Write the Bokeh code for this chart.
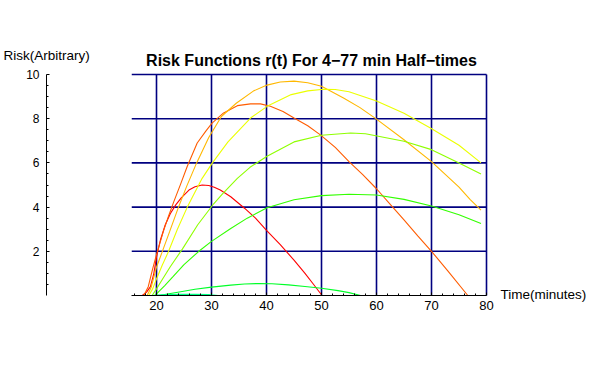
from bokeh.plotting import figure
from bokeh.models import Range1d, LinearAxis, FixedTicker, Label
from bokeh.embed import file_html
from bokeh.resources import INLINE

# ---- data ----
title_text = "Risk Functions r(t) For 4\u221277 min Half\u2212times"
x_label = "Time(minutes)"
y_label = "Risk(Arbitrary)"

x_major = [20, 30, 40, 50, 60, 70, 80]
x_minor = [16, 18, 22, 24, 26, 28, 32, 34, 36, 38, 42, 44, 46, 48, 52, 54, 56, 58,
           62, 64, 66, 68, 72, 74, 76, 78]
y_major = [2, 4, 6, 8, 10]
y_minor = [0.5, 1, 1.5, 2.5, 3, 3.5, 4.5, 5, 5.5, 6.5, 7, 7.5, 8.5, 9, 9.5]
x_start, x_end = 15.5, 80
y_start, y_end = 0, 10

red_t = [17.4, 18.2, 18.9, 19.5, 20.0, 20.7, 21.6, 22.5, 23.5, 24.5, 25.9, 27.0, 28.3,
         29.5, 30.5, 31.6, 33.5, 36.0, 38.0, 40.0, 42.5, 45.0, 47.0, 48.5, 50.1]
red_r = [0, 0.15, 0.4, 0.98, 1.74, 2.5, 3.2, 3.7, 4.1, 4.42, 4.77, 4.92, 5.0,
         4.98, 4.9, 4.77, 4.47, 3.95, 3.5, 2.95, 2.3, 1.6, 1.0, 0.52, 0]

orred_t = [17.7, 18.5, 19.3, 20.0, 21.3, 22.2, 23.15, 24.4, 25.6, 27.4, 29.0, 30.1, 32.2,
           34.7, 37.1, 38.9, 40.7, 43.0, 45.0, 47.5, 49.8, 52.5, 55.0, 57.5, 60.0, 62.5,
           65.0, 67.5, 70.0, 73.0, 76.6]
orred_r = [0, 0.4, 1.2, 1.85, 2.95, 3.6, 4.25, 5.05, 5.85, 6.9, 7.45, 7.8, 8.26,
           8.59, 8.67, 8.67, 8.56, 8.33, 8.03, 7.68, 7.27, 6.7, 6.06, 5.47, 4.83, 4.12,
           3.42, 2.7, 2.0, 1.1, 0]

orange_t = [18.3, 19.0, 20.0, 21.0, 22.4, 24.0, 25.5, 27.3, 29.5, 31.8, 34.5, 37.6, 40.1,
            42.5, 45.0, 47.5, 50.0, 54.0, 57.0, 60.0, 65.0, 70.0, 75.0, 77.0, 79.0]
orange_r = [0, 0.35, 1.28, 1.95, 2.9, 4.0, 4.95, 6.0, 7.15, 8.1, 8.7, 9.25, 9.52,
            9.66, 9.7, 9.63, 9.47, 8.94, 8.5, 7.98, 7.05, 6.06, 4.9, 4.35, 3.86]

yellow_t = [18.6, 19.3, 20.0, 21.0, 22.2, 23.8, 25.6, 28.3, 30.1, 33.0, 37.1, 40.1, 44.5,
            47.5, 50.4, 52.5, 55.0, 60.0, 65.0, 69.8, 75.0, 79.0]
yellow_r = [0, 0.3, 0.75, 1.35, 2.0, 3.0, 4.0, 5.3, 5.98, 6.95, 8.03, 8.56, 9.09,
            9.26, 9.33, 9.32, 9.22, 8.8, 8.25, 7.58, 6.8, 6.0]

ygreen_t = [19.2, 20.0, 21.0, 22.5, 24.7, 27.5, 30.4, 32.0, 34.7, 37.0, 40.1, 45.0, 50.0,
            55.3, 58.0, 60.1, 65.0, 70.0, 75.0, 79.0]
ygreen_r = [0, 0.3, 0.7, 1.3, 2.1, 3.2, 4.15, 4.6, 5.3, 5.8, 6.3, 6.95, 7.25,
            7.35, 7.32, 7.22, 6.98, 6.6, 6.0, 5.5]

green_t = [19.7, 20.5, 21.5, 23.0, 25.0, 27.7, 30.0, 33.5, 36.5, 40.1, 45.0, 50.0, 55.0,
           60.0, 65.0, 70.0, 75.0, 79.0]
green_r = [0, 0.2, 0.45, 0.85, 1.4, 2.0, 2.45, 3.03, 3.5, 3.97, 4.33, 4.52, 4.58,
           4.55, 4.35, 4.05, 3.65, 3.26]

bgreen_t = [20.5, 22.0, 24.4, 27.0, 30.0, 33.5, 36.0, 38.7, 41.0, 44.0, 47.0, 50.0, 53.0,
            55.0, 57.1]
bgreen_r = [0, 0.07, 0.17, 0.28, 0.38, 0.47, 0.52, 0.545, 0.53, 0.48, 0.41, 0.33, 0.22,
            0.13, 0]

teal_t = [19.0, 21.0, 24.0, 27.0, 29.5, 31.2]
teal_r = [0, 0.03, 0.05, 0.05, 0.04, 0]

series = [
    (red_t, red_r, "#FF0000"),
    (orred_t, orred_r, "#FF5C00"),
    (orange_t, orange_r, "#FFB800"),
    (yellow_t, yellow_r, "#EBFF00"),
    (ygreen_t, ygreen_r, "#8FFF00"),
    (green_t, green_r, "#33FF00"),
    (bgreen_t, bgreen_r, "#00FF29"),
    (teal_t, teal_r, "#00FF85"),
]

FONT = "Liberation Sans"
W, H = 592, 365
# frame covers the whole canvas; data 0..80 -> px 46..486, 0..10 -> px 295..74
px_per_x = 440 / 80.0
px_per_y = 221 / 10.0
xr = Range1d(-46 / px_per_x, (W - 46) / px_per_x)
yr = Range1d(-(H - 295) / px_per_y, 295 / px_per_y)

p = figure(width=W, height=H, output_backend="svg", toolbar_location=None,
           x_range=xr, y_range=yr, x_axis_type=None, y_axis_type=None, title=None,
           min_border_left=0, min_border_right=0, min_border_top=0, min_border_bottom=0)
p.outline_line_color = None
p.background_fill_color = "white"
p.border_fill_color = "white"
p.xgrid.visible = False
p.ygrid.visible = False

# grid lines
p.segment(x0=x_major, x1=x_major, y0=[y_start] * len(x_major), y1=[y_end] * len(x_major),
          line_color="#000080", line_width=1.6)
p.segment(x0=[x_start] * len(y_major), x1=[x_end] * len(y_major), y0=y_major, y1=y_major,
          line_color="#000080", line_width=1.6)

# axes placed at fixed data locations
xax = LinearAxis(ticker=FixedTicker(ticks=x_major, minor_ticks=x_minor),
                 bounds=(x_start, x_end), fixed_location=0)
xax.major_tick_in = 3
xax.major_tick_out = 0
xax.minor_tick_in = 2
xax.minor_tick_out = 0
xax.major_label_standoff = 5
xax.major_label_text_font = FONT
xax.major_label_text_font_size = "13px"
xax.major_label_text_color = "black"
p.add_layout(xax, "below")

yax = LinearAxis(ticker=FixedTicker(ticks=y_major, minor_ticks=y_minor),
                 bounds=(y_start, y_end), fixed_location=0)
yax.major_tick_in = 3
yax.major_tick_out = 0
yax.minor_tick_in = 2
yax.minor_tick_out = 0
yax.major_label_standoff = 7
yax.major_label_text_font = FONT
yax.major_label_text_font_size = "12px"
yax.major_label_text_color = "black"
p.add_layout(yax, "left")

for t, r, c in series:
    p.line(t, r, line_color=c, line_width=1.1)

p.add_layout(Label(x=48.18, y=10.63, text=title_text, text_align="center",
                   text_baseline="middle", text_font=FONT, text_font_style="bold",
                   text_font_size="16px", text_color="black"))
p.add_layout(Label(x=-7.82, y=10.86, text=y_label, text_align="left", text_baseline="middle",
                   text_font=FONT, text_font_size="13.5px", text_color="black"))
p.add_layout(Label(x=82.55, y=0.05, text=x_label, text_align="left", text_baseline="middle",
                   text_font=FONT, text_font_size="13.5px", text_color="black"))

open("out.html", "w").write(file_html(p, INLINE))
